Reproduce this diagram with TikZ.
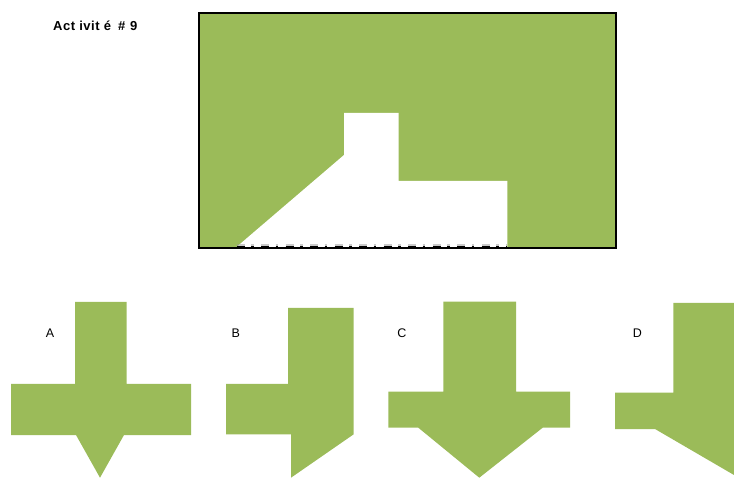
\documentclass[tikz,border=0pt]{standalone}
\usepackage{fontspec}
\setmainfont{Liberation Sans}
\newfontfamily\ttlfont[LetterSpace=4]{Liberation Sans}
\definecolor{olive}{HTML}{9BBB59}
\begin{document}
\begin{tikzpicture}[x=1pt,y=-1pt,
  piece/.style={fill=olive,draw=none},
  lbl/.style={font=\fontsize{12.5}{14}\selectfont,inner sep=0pt},
  ttl/.style={font=\ttlfont\bfseries\fontsize{13}{15}\selectfont,inner sep=0pt,anchor=west},
  dashline/.style={line width=3.4pt,dash pattern=on 8pt off 6.5pt on 2.5pt off 7.5pt}]
\useasboundingbox (0,0) rectangle (734,478);
% title
\node[ttl] (title) at (53,26) {Act ivit é\hspace{7pt}\#\hspace{5pt}9};
% main frame
\node[draw=black,line width=2pt,fill=olive,minimum width=417pt,minimum height=235pt,inner sep=0pt,anchor=north west] (frame) at (197.5,12) {};
% white cut-out
\fill[white] (236.5,247) -- (344,155) -- (344,113) -- (398.5,113) -- (398.5,181) -- (507.3,181) -- (507.3,247) -- cycle;
\coordinate (dl) at (236.5,247.8);
\coordinate (dr) at (507.3,247.8);
\draw[black!40,dashline,opacity=0.5] ([yshift=2pt]dl) -- ([yshift=2pt]dr);
\draw[black,dashline] (dl) -- (dr);
% A
\fill[piece] (75,302) -- (126.7,302) -- (126.7,384) -- (191,384) -- (191,435) -- (124,435) -- (100,477.7) -- (76,435) -- (11,435) -- (11,384) -- (75,384) -- cycle;
\node[lbl] (la) at (50,333) {A};
% B
\fill[piece] (288,308) -- (353.7,308) -- (353.7,434.3) -- (291,477.7) -- (291,434.3) -- (226,434.3) -- (226,384) -- (288,384) -- cycle;
\node[lbl] (lb) at (235.7,333) {B};
% C
\fill[piece] (443.3,301.7) -- (516,301.7) -- (516,391.7) -- (570,391.7) -- (570,427.7) -- (542.7,427.7) -- (479.3,477.7) -- (418.3,427.7) -- (388.3,427.7) -- (388.3,391.7) -- (443.3,391.7) -- cycle;
\node[lbl] (lc) at (402,333) {C};
% D
\fill[piece] (673.3,303) -- (734,303) -- (734,475) -- (655,429) -- (615,429) -- (615,392.7) -- (673.3,392.7) -- cycle;
\node[lbl] (ld) at (637.3,333) {D};
\end{tikzpicture}
\end{document}
